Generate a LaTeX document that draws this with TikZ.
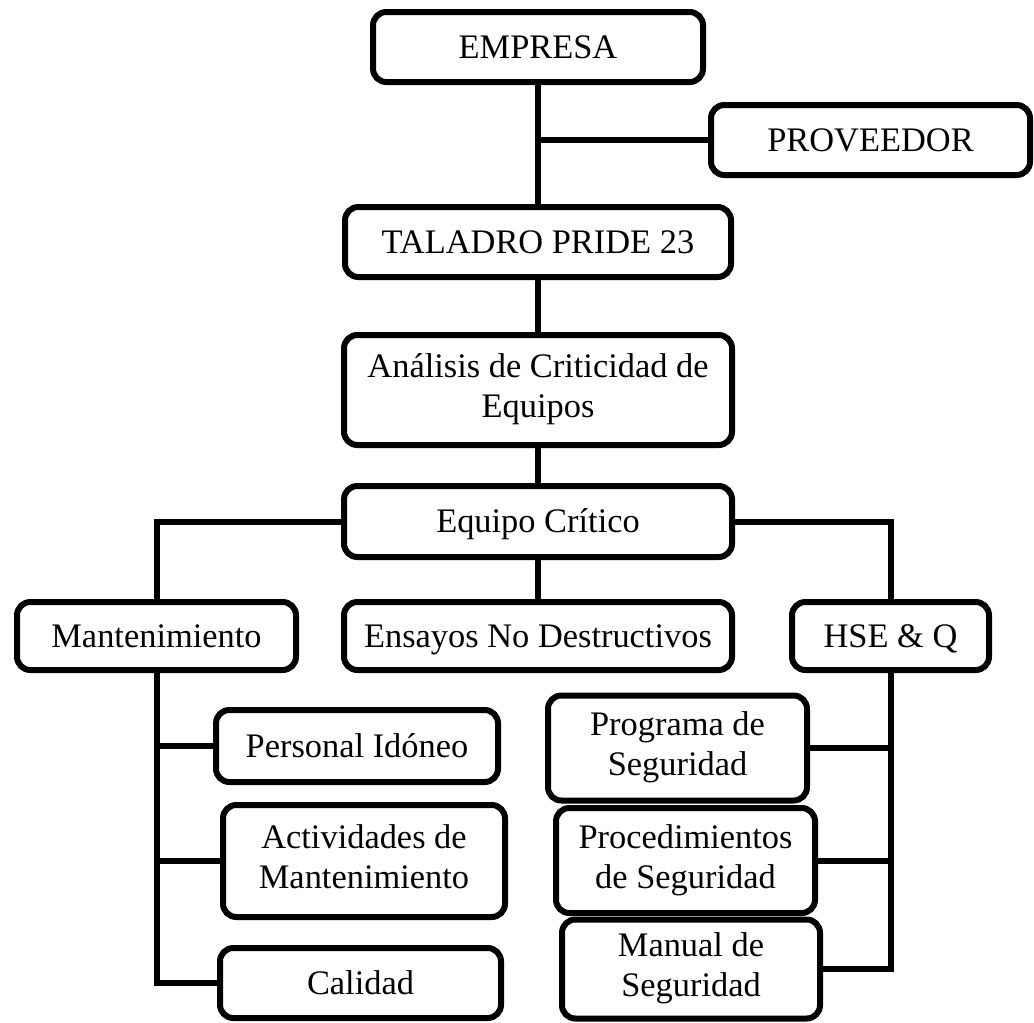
\documentclass[tikz,border=0pt]{standalone}
\usepackage{fontspec}
\setmainfont{Liberation Serif}
% fixed line struts so that every box centres its text the same way
\newcommand\bxtop[1]{\rule{0pt}{#1}}
\newcommand\bxbot{\rule[-6pt]{0pt}{6pt}}
\begin{document}
\begin{tikzpicture}[x=0.75pt,y=-0.75pt,
  box/.style={draw, line width=4.5pt, rounded corners=10pt, align=center,
    inner sep=0pt, font=\fontsize{25.8}{30}\selectfont,
    execute at begin node=\bxtop{23pt}, execute at end node=\bxbot},
  twoline/.style={execute at begin node=\bxtop{29pt}},
  size/.style 2 args={minimum width={#1*0.75pt}, minimum height={#2*0.75pt}},
  link/.style={line width=4.5pt}]
\useasboundingbox (0,0) rectangle (1034,1022);

% top chain
\node[box, size={330}{70}] (emp)  at (538,47)    {EMPRESA};
\node[box, size={319}{70}] (prov) at (870.5,140) {PROVEEDOR};
\node[box, size={386}{70}] (tal)  at (538,242)   {TALADRO PRIDE 23};
\node[box, twoline, size={388}{110}] (ana) at (538,390) {Análisis de Criticidad de\\Equipos};
\node[box, size={388}{71}] (eq)   at (538,521.5) {Equipo Crítico};

% second level
\node[box, size={279}{68}] (man)  at (156.5,636) {Mantenimiento};
\node[box, size={388}{68}] (ens)  at (538,636)   {Ensayos No Destructivos};
\node[box, size={197}{68}] (hse)  at (890.5,636) {HSE \& Q};

% maintenance branch
\node[box, size={282}{72}]  (per) at (357,746)   {Personal Idóneo};
\node[box, twoline, size={282}{112}] (act) at (364,861) {Actividades de\\Mantenimiento};
\node[box, size={281}{70}]  (cal) at (360.5,983) {Calidad};

% HSE branch
\node[box, twoline, size={259}{105}] (prog) at (677.5,748)   {Programa de\\Seguridad};
\node[box, twoline, size={259}{105}] (proc) at (685.5,860.5) {Procedimientos\\de Seguridad};
\node[box, twoline, size={258}{99}]  (manu) at (691,969)     {Manual de\\Seguridad};

% connectors
\draw[link] (emp.south) -- (tal.north);
\draw[link] (prov.west) -- (prov.west -| emp.south);
\draw[link] (tal.south) -- (ana.north);
\draw[link] (ana.south) -- (eq.north);
\draw[link] (eq.south) -- (ens.north);
\draw[link] (eq.west) -| (man.north);
\draw[link] (eq.east) -| (hse.north);

\draw[link] (man.south) |- (cal.west);
\draw[link] (man.south |- per.west) -- (per.west);
\draw[link] (man.south |- act.west) -- (act.west);

\draw[link] (hse.south) |- (manu.east);
\draw[link] (hse.south |- prog.east) -- (prog.east);
\draw[link] (hse.south |- proc.east) -- (proc.east);
\end{tikzpicture}
\end{document}
